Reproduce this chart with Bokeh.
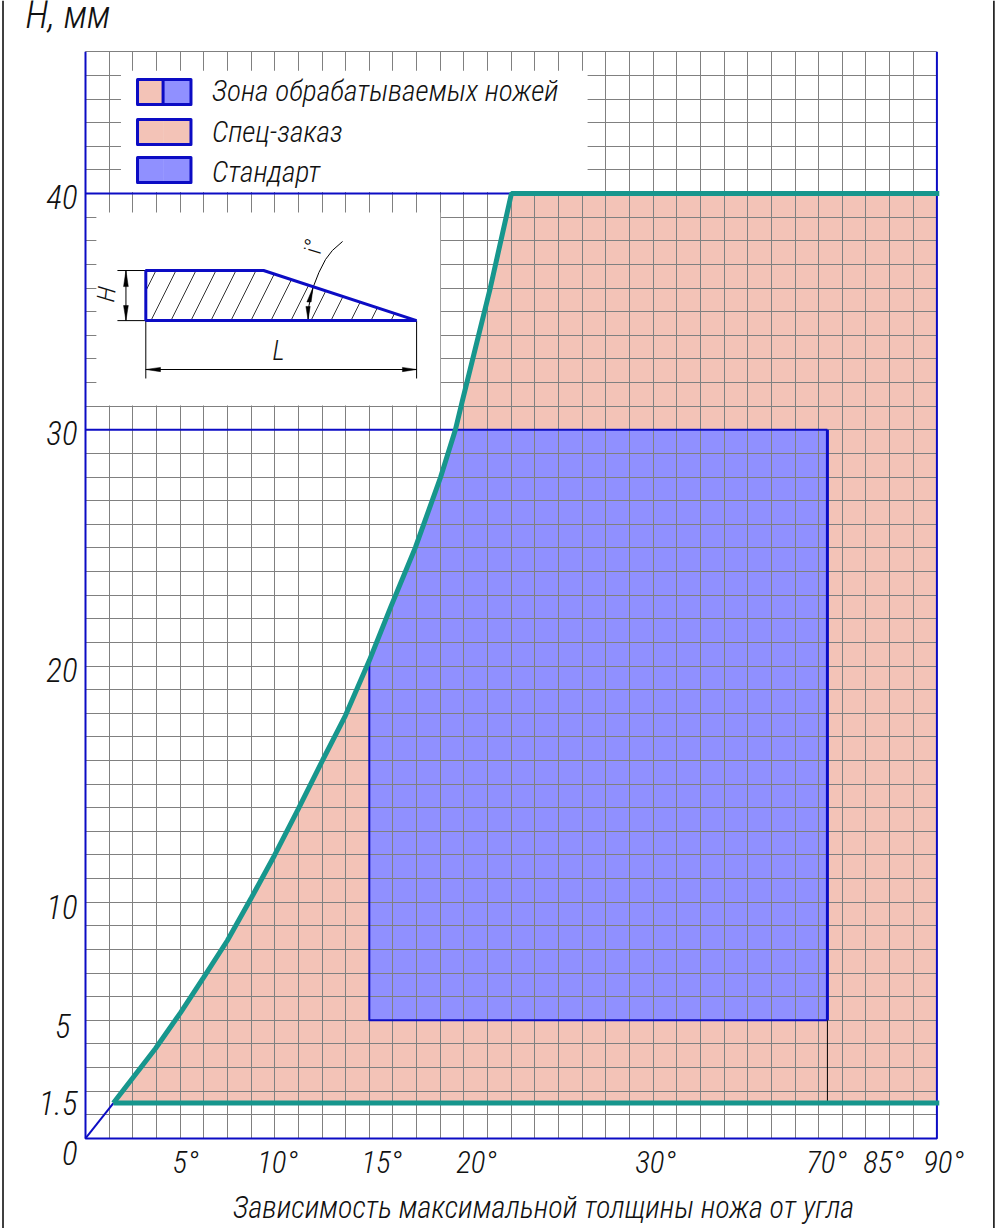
from bokeh.core.properties import value
from bokeh.embed import file_html
from bokeh.models import FixedTicker, Grid, LinearAxis, Range1d, Span
from bokeh.plotting import figure
from bokeh.resources import INLINE

FONT = "Roboto Condensed Light"
NAVY = "#0c0cc4"
TEAL = "#17968d"
PINK = "#f3c3b7"
BLUE = "#9090ff"
GRID = "#808080"
INK = "#111111"

# grid cells
cols = list(range(37))
rows = list(range(47))

# axis labels
x_tick_pos = [4.23, 8.12, 12.52, 16.53, 24.1, 31.33, 33.74, 36.28]
x_tick_txt = ["5°", "10°", "15°", "20°", "30°", "70°", "85°", "90°"]
y_tick_pos = [-0.6, 1.52, 9.8, 19.85, 29.85, 39.85]
y_tick_txt = ["0", "1.5", "10", "20", "30", "40"]
y_tick5_pos = [4.75]
y_tick5_txt = ["5"]

# boundary of the machinable zone
edge_x = [1.18, 2.96, 4.02, 4.99, 6.0, 7.02, 7.99, 9.01, 10.02, 10.99, 12.0, 12.9, 13.95, 15.01, 15.64, 15.94, 17.12, 18.01]
edge_y = [1.5, 3.81, 5.33, 6.81, 8.38, 10.2, 11.98, 13.97, 16.0, 17.9, 20.23, 22.48, 25.02, 27.98, 30.0, 31.24, 36.02, 40.0]
x_max, y_top = 36, 46
y_low, y_high = 1.5, 40
std_left, std_right, std_low, std_high = 12, 31.37, 5, 30

# legend
legend_txt = ["Зона обрабатываемых ножей", "Спец-заказ", "Стандарт"]
legend_txt_y = [44.36, 42.62, 40.93]
swatch_left, swatch_mid, swatch_right = 2.2, 3.28, 4.46
swatch_low = [43.77, 42.07, 40.47]
swatch_high = [44.83, 43.13, 41.52]

# inset sketch of the knife section
part_x = [2.55, 7.53, 14.0, 2.55]
part_y = [36.74, 36.74, 34.62, 34.62]
leader_x = [9.41, 9.45, 9.62, 9.87, 10.15, 10.44, 10.87]
leader_y = [34.62, 35.26, 36.02, 36.66, 37.21, 37.59, 37.97]
thin_x = [[1.35, 2.55], [1.35, 2.55], [1.71, 1.71], [2.55, 2.55], [14.0, 14.0], [2.55, 14.0]]
thin_y = [[36.74, 36.74], [34.62, 34.62], [36.74, 34.62], [34.62, 32.17], [34.62, 32.17], [32.55, 32.55]]
arrow_x = [[1.71, 1.61, 1.81], [1.71, 1.61, 1.81], [2.55, 3.17, 3.17], [14.0, 13.4, 13.4], [9.62, 9.36, 9.54], [9.41, 9.32, 9.5]]
arrow_y = [[36.74, 36.06, 36.06], [34.62, 35.26, 35.26], [32.55, 32.64, 32.46], [32.55, 32.64, 32.46], [36.02, 35.41, 35.41], [34.65, 35.22, 35.22]]

p = figure(width=997, height=1228, output_backend="svg", toolbar_location=None,
           x_axis_location=None, y_axis_location=None,
           x_range=Range1d(-3.594, 38.562), y_range=Range1d(-3.81, 48.17),
           min_border=0, outline_line_color=None, background_fill_color="white",
           border_fill_color="white")
p.xgrid.visible = False
p.ygrid.visible = False

# fills, under the grid
p.patch([edge_x[0]] + edge_x + [x_max, x_max],
        [y_low] + edge_y + [y_high, y_low],
        fill_color=PINK, line_color=None, level="image")
i0 = edge_x.index(std_left)
i1 = edge_y.index(std_high)
p.patch([std_left] + edge_x[i0:i1 + 1] + [std_right, std_right],
        [std_low] + edge_y[i0:i1 + 1] + [std_high, std_low],
        fill_color=BLUE, line_color=None, level="image")

p.add_layout(Grid(dimension=0, ticker=FixedTicker(ticks=cols), cross_bounds=(0, y_top),
                  grid_line_color=GRID, grid_line_width=1, level="underlay"))
p.add_layout(Grid(dimension=1, ticker=FixedTicker(ticks=rows), cross_bounds=(0, x_max),
                  grid_line_color=GRID, grid_line_width=1, level="underlay"))

# paper patches behind legend and sketch
p.quad(left=[1.5, 0.46], right=[21.23, 15.0], bottom=[40.06, 31.03], top=[45.2, 39.2],
       fill_color="white", line_color=None)

# frame and reference lines
p.line([0, 0, x_max, x_max], [y_top, 0, 0, y_top], line_color=NAVY, line_width=2)
p.line([0, edge_x[-1]], [y_high, y_high], line_color=NAVY, line_width=2)
p.line([0, std_right], [std_high, std_high], line_color=NAVY, line_width=2)
p.line([std_left, std_left, std_right], [edge_y[i0], std_low, std_low], line_color=NAVY, line_width=2)
p.line([std_right, std_right], [std_high, std_low], line_color=NAVY, line_width=3)
p.line([std_right, std_right], [std_low, y_low], line_color="black", line_width=1)
p.line([0, edge_x[0]], [0, y_low], line_color=NAVY, line_width=2)

# zone boundary
p.line(edge_x + [x_max + 0.1], edge_y + [y_high], line_color=TEAL, line_width=5)
p.line([edge_x[0], x_max + 0.1], [y_low, y_low], line_color=TEAL, line_width=5)

# legend
for lo, hi, left_col, right_col in zip(swatch_low, swatch_high, [PINK, PINK, BLUE], [BLUE, PINK, BLUE]):
    p.quad(left=[swatch_left], right=[swatch_mid], bottom=[lo], top=[hi], fill_color=left_col, line_color=None)
    p.quad(left=[swatch_mid], right=[swatch_right], bottom=[lo], top=[hi], fill_color=right_col, line_color=None)
    p.quad(left=[swatch_left], right=[swatch_right], bottom=[lo], top=[hi], fill_color=None,
           line_color=NAVY, line_width=3, line_join="round")
p.line([swatch_mid, swatch_mid], [swatch_low[0], swatch_high[0]], line_color=NAVY, line_width=3)
p.text([5.35] * 3, legend_txt_y, text=legend_txt, text_font=value(FONT), text_font_style="italic",
       text_font_size="29.5px", text_baseline="middle", text_color=INK)

# inset
p.patch(part_x, part_y, fill_color=None, line_color=None, hatch_pattern="right_diagonal_line",
        hatch_color="black", hatch_weight=0.8, hatch_scale=40, hatch_alpha=1.0)
p.multi_line(thin_x, thin_y, line_color="black", line_width=1)
p.line(leader_x, leader_y, line_color="black", line_width=1)
p.patches(arrow_x, arrow_y, fill_color="black", line_color="black", line_width=0.5)
p.patch(part_x, part_y, fill_color=None, line_color=NAVY, line_width=3)
p.text([0.89], [35.73], text=["H"], angle=1.45, text_font=value(FONT), text_font_style="italic",
       text_font_size="25px", text_align="center", text_baseline="middle", text_color=INK)
p.text([8.16], [33.35], text=["L"], text_font=value(FONT), text_font_style="italic",
       text_font_size="27px", text_align="center", text_baseline="middle", text_color=INK)
p.text([9.64], [37.76], text=["i°"], angle=1.45, text_font=value(FONT), text_font_style="italic",
       text_font_size="24px", text_align="center", text_baseline="middle", text_color=INK)

# titles
p.text([-2.54], [46.62], text=["H, мм"], text_font=value(FONT), text_font_style="italic",
       text_font_size="38px", text_color=INK)
p.text([19.37], [-2.92], text=["Зависимость максимальной толщины ножа от угла"], text_font=value(FONT),
       text_font_style="italic", text_font_size="30.4px", text_align="center", text_baseline="middle",
       text_color=INK)

# axes
xa = LinearAxis(fixed_location=0, ticker=FixedTicker(ticks=x_tick_pos),
                major_label_overrides=dict(zip(x_tick_pos, x_tick_txt)))
ya = LinearAxis(fixed_location=0, ticker=FixedTicker(ticks=y_tick_pos),
                major_label_overrides=dict(zip(y_tick_pos, y_tick_txt)))
ya5 = LinearAxis(fixed_location=0, ticker=FixedTicker(ticks=y_tick5_pos),
                 major_label_overrides=dict(zip(y_tick5_pos, y_tick5_txt)))
for ax in (xa, ya, ya5):
    ax.axis_line_color = None
    ax.major_tick_line_color = None
    ax.minor_tick_line_color = None
    ax.major_tick_out = 0
    ax.major_label_text_font = FONT
    ax.major_label_text_font_style = "italic"
    ax.major_label_text_font_size = "33px"
    ax.major_label_text_color = INK
    ax.major_label_standoff = 8
xa.major_label_text_font_size = "31px"
xa.major_label_standoff = 6
ya5.major_label_standoff = 15
p.add_layout(xa, "below")
p.add_layout(ya, "left")
p.add_layout(ya5, "left")

# sheet edges
p.add_layout(Span(location=-3.488, dimension="height", line_color="black", line_width=1.5))
p.add_layout(Span(location=38.41, dimension="height", line_color="black", line_width=1.5))

open("out.html", "w").write(file_html(p, INLINE))
